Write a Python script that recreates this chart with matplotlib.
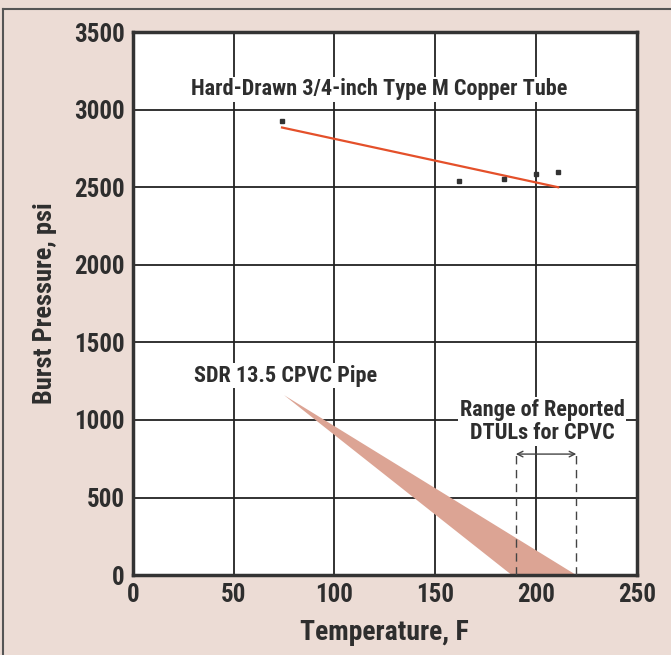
import matplotlib
matplotlib.use("Agg")
import matplotlib.pyplot as plt
from matplotlib import font_manager
from matplotlib.lines import Line2D

# -- Data -----------------------------------------------------------------
copper_temp = [74, 162, 184, 200, 211]
copper_psi = [2924, 2537, 2550, 2587, 2598]
copper_fit_temp = [74, 211]
copper_fit_psi = [2885, 2500]

cpvc_temp = [75, 220, 188]
cpvc_psi = [1160, 0, 0]

dtul_range = [190, 220]
dtul_top = 780

x_ticks = [0, 50, 100, 150, 200, 250]
y_ticks = [0, 500, 1000, 1500, 2000, 2500, 3000, 3500]

# -- Fonts ----------------------------------------------------------------
available = {f.name for f in font_manager.fontManager.ttflist}
family = "DejaVu Sans"
for name in ["Liberation Sans Narrow", "DejaVu Sans Condensed", "Roboto Condensed"]:
    if name in available:
        family = name
        break
plt.rcParams["font.family"] = [family, "DejaVu Sans"]
plt.rcParams["font.weight"] = "bold"

BG = "#ecdcd5"
INK = "#2e2e2e"

fig = plt.figure(figsize=(6.71, 6.55), dpi=100, facecolor=BG)
ax = fig.add_axes([0.198, 0.122, 0.751, 0.829])
ax.set_facecolor("white")

# outer frame of the scanned panel
fig.add_artist(Line2D([0.004, 1.0], [0.986, 0.986], transform=fig.transFigure, color="#555", lw=1.5))
fig.add_artist(Line2D([0.004, 0.004], [0.0, 0.986], transform=fig.transFigure, color="#555", lw=1.5))

# CPVC wedge
ax.fill(cpvc_temp, cpvc_psi, color="#dca494", lw=0, zorder=2)

# copper tube data + fit
ax.plot(copper_fit_temp, copper_fit_psi, color="#e4502a", lw=1.6, zorder=3)
ax.plot(copper_temp, copper_psi, ls="none", marker="s", ms=3, color="#333", zorder=4)

# DTUL range
for x in dtul_range:
    ax.plot([x, x], [0, dtul_top], color="#444", lw=1, ls=(0, (6, 4)), zorder=3)
ax.annotate("", xy=(dtul_range[0], dtul_top), xytext=(dtul_range[1], dtul_top),
            arrowprops=dict(arrowstyle="<->", color="#444", lw=1, shrinkA=0, shrinkB=0), zorder=3)

txt_kw = dict(ha="center", va="center", fontsize=16, fontweight="bold", color=INK,
              bbox=dict(facecolor="white", edgecolor="none", pad=1), zorder=5)
ax.text(122, 3130, "Hard-Drawn 3/4-inch Type M Copper Tube", **txt_kw)
ax.text(76, 1285, "SDR 13.5 CPVC Pipe", **txt_kw)
ax.text(203, 990, "Range of Reported\nDTULs for CPVC", linespacing=1.1, **txt_kw)

ax.set_xlim(0, 250)
ax.set_ylim(0, 3500)
ax.set_xticks(x_ticks)
ax.set_yticks(y_ticks)
ax.tick_params(length=0, labelsize=18, labelcolor=INK, pad=6)
for lab in ax.get_xticklabels() + ax.get_yticklabels():
    lab.set_fontweight("bold")
ax.grid(True, color="#222", lw=1.3, zorder=1)
ax.set_axisbelow(True)
for s in ax.spines.values():
    s.set_linewidth(2.5)
    s.set_color("#333")

ax.set_xlabel("Temperature, F", fontsize=20, fontweight="bold", color=INK, labelpad=8)
ax.set_ylabel("Burst Pressure, psi", fontsize=19, fontweight="bold", color=INK, labelpad=12)

fig.savefig("out.png", dpi=100, facecolor=BG)
